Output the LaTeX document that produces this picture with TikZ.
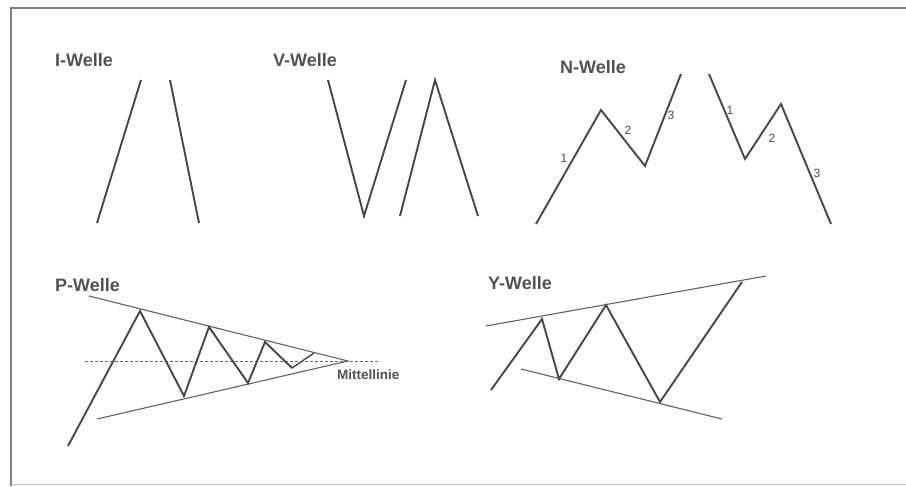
\documentclass[tikz,border=0pt]{standalone}
\usepackage{fontspec}
\setmainfont{Liberation Sans}
\begin{document}
\begin{tikzpicture}[x=1pt,y=-1pt,
  wave/.style={draw=black!72,line width=1.9pt,line join=miter},
  trend/.style={draw=black!62,line width=1.1pt},
  midline/.style={draw=black!60,line width=0.8pt,dash pattern=on 3pt off 2pt},
  title/.style={font=\bfseries\fontsize{18}{20}\selectfont,text=black!68,anchor=west,inner sep=0pt},
  num/.style={font=\fontsize{12}{13}\selectfont,text=black!70,inner sep=0pt},
  frame/.style={draw=black!50,line width=1.3pt}]
\useasboundingbox (0,0) rectangle (906,487);
\fill[white] (0,0) rectangle (906,487);
% frame
\coordinate (f1) at (11,486);
\coordinate (f2) at (11,8);
\coordinate (f3) at (906,8);
\coordinate (f4) at (906,484);
\coordinate (f5) at (11,484);
\draw[frame] (f1) -- (f2) -- (f3);
\draw[draw=black!25,line width=1pt] (f5) -- (f4);

% titles
\node[title] (tI) at (55,60) {I-Welle};
\node[title] (tV) at (273,60) {V-Welle};
\node[title] (tN) at (560,67) {N-Welle};
\node[title] (tP) at (55,285) {P-Welle};
\node[title] (tY) at (488,283) {Y-Welle};

% I-Welle
\coordinate (i1a) at (97,223); \coordinate (i1b) at (141,80);
\coordinate (i2a) at (170,80); \coordinate (i2b) at (199,223);
\draw[wave] (i1a) -- (i1b);
\draw[wave] (i2a) -- (i2b);

% V-Welle
\coordinate (v1) at (328,80); \coordinate (v2) at (364,216); \coordinate (v3) at (406,80);
\coordinate (w1) at (400,216); \coordinate (w2) at (435,80); \coordinate (w3) at (478,216);
\draw[wave] (v1) -- (v2) -- (v3);
\draw[wave] (w1) -- (w2) -- (w3);

% N-Welle
\coordinate (n1) at (536,224); \coordinate (n2) at (601,110);
\coordinate (n3) at (645,166); \coordinate (n4) at (681,74);
\draw[wave] (n1) -- (n2) -- (n3) -- (n4);
\node[num] (n1l) at (564,158) {1};
\node[num] (n2l) at (628,130) {2};
\node[num] (n3l) at (671,115) {3};
\coordinate (m1) at (709,74); \coordinate (m2) at (745,159);
\coordinate (m3) at (781,104); \coordinate (m4) at (831,224);
\draw[wave] (m1) -- (m2) -- (m3) -- (m4);
\node[num] (m1l) at (730,110) {1};
\node[num] (m2l) at (772,138) {2};
\node[num] (m3l) at (817,173) {3};

% P-Welle
\coordinate (pu) at (89,296); \coordinate (pl) at (97,419);
\coordinate (apex) at (348,361);
\coordinate (da) at (85,361); \coordinate (db) at (378,361);
\draw[trend] (pu) -- (apex) -- (pl);
\draw[midline] (da) -- (db);
\coordinate (p1) at (68,446); \coordinate (p2) at (140,311);
\coordinate (p3) at (184,396); \coordinate (p4) at (209,327);
\coordinate (p5) at (248,383); \coordinate (p6) at (265,342);
\coordinate (p7) at (292,368); \coordinate (p8) at (314,353);
\draw[wave] (p1) -- (p2) -- (p3) -- (p4) -- (p5) -- (p6) -- (p7);
\draw[wave,line width=1.4pt] (p7) -- (p8);
\node[font=\bfseries\fontsize{13.5}{15}\selectfont,text=black!68,anchor=west,inner sep=0pt] (mitte) at (337,375) {Mittellinie};

% Y-Welle
\coordinate (yu1) at (486,326); \coordinate (yu2) at (766,276);
\coordinate (yl1) at (521,369); \coordinate (yl2) at (722,419);
\draw[trend] (yu1) -- (yu2);
\draw[trend] (yl1) -- (yl2);
\coordinate (y1) at (491,390); \coordinate (y2) at (542,319);
\coordinate (y3) at (559,379); \coordinate (y4) at (606,305);
\coordinate (y5) at (660,402); \coordinate (y6) at (742,282);
\draw[wave] (y1) -- (y2) -- (y3) -- (y4) -- (y5) -- (y6);
\end{tikzpicture}
\end{document}
